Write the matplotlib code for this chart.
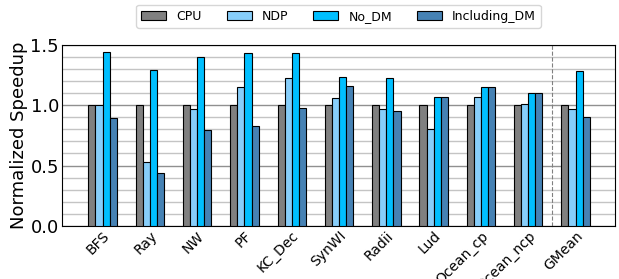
import numpy as np
import matplotlib.pyplot as plt
from matplotlib.ticker import MultipleLocator

benchmarks = ["BFS", "Ray", "NW", "PF", "KC_Dec", "SynWI", "Radii", "Lud",
              "Ocean_cp", "Ocean_ncp", "GMean"]
cpu = [1.0] * 11
ndp = [1.0, 0.53, 0.97, 1.15, 1.22, 1.06, 0.97, 0.80, 1.07, 1.01, 0.97]
no_dm = [1.44, 1.29, 1.40, 1.43, 1.43, 1.23, 1.22, 1.07, 1.15, 1.10, 1.28]
incl_dm = [0.89, 0.435, 0.795, 0.825, 0.98, 1.16, 0.95, 1.07, 1.15, 1.10, 0.905]

series = [("CPU", cpu, "#808080"), ("NDP", ndp, "#87CEFA"),
          ("No_DM", no_dm, "#00BFFF"), ("Including_DM", incl_dm, "#4682B4")]

fig, ax = plt.subplots(figsize=(6.19, 2.79), dpi=100)
x = np.arange(len(benchmarks))
w = 0.15
for k, (name, vals, col) in enumerate(series):
    ax.bar(x + (k - 1.5) * w, vals, w, label=name, color=col,
           edgecolor="black", linewidth=0.8, zorder=3)

ax.set_ylim(0, 1.5)
ax.set_xlim(-0.86, 10.84)
ax.yaxis.set_major_locator(MultipleLocator(0.5))
ax.yaxis.set_minor_locator(MultipleLocator(0.1))
ax.grid(axis="y", which="major", color="#909090", linewidth=1, zorder=0)
ax.grid(axis="y", which="minor", color="#c4c4c4", linewidth=1, zorder=0)
ax.set_axisbelow(True)
ax.axvline(9.5, color="gray", linestyle="--", linewidth=0.8, zorder=1)

ax.set_xticks(x)
ax.set_xticklabels(benchmarks, rotation=45, ha="right", rotation_mode="anchor",
                   fontsize=10)
ax.tick_params(axis="x", length=0, pad=2)
ax.tick_params(axis="y", which="both", length=0, labelsize=13, pad=2)
ax.set_ylabel("Normalized Speedup", fontsize=13, labelpad=2)

ax.legend(loc="upper center", bbox_to_anchor=(0.5, 1.255), ncol=4,
          fontsize=9)

plt.subplots_adjust(left=0.1, right=0.994, top=0.84, bottom=0.19)
plt.savefig("out.png")
